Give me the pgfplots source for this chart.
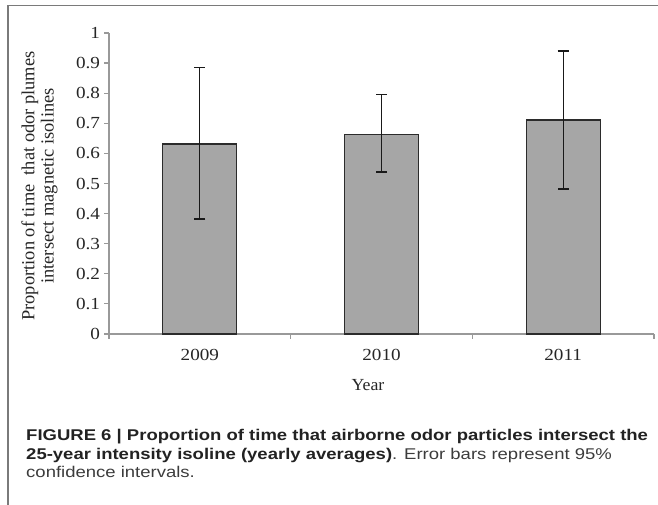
\documentclass[border=0pt]{standalone}
\usepackage{fontspec}
\setmainfont{Liberation Serif}
\newfontfamily\capfont{Liberation Sans}
\usepackage{pgfplots}
\pgfplotsset{compat=1.18}
\definecolor{barfill}{HTML}{A6A6A6}
\definecolor{baredge}{HTML}{2B2B2B}
\definecolor{axgray}{HTML}{999999}
\definecolor{framegray}{HTML}{7A7A7A}
\definecolor{capbold}{HTML}{222222}
\definecolor{captext}{HTML}{3C3C3C}

\begin{document}
\begin{tikzpicture}[x=1bp,y=1bp]
  \useasboundingbox (0,0) rectangle (658,505);
  % frame round the figure
  \draw[framegray, line width=1.3bp] (8,0) -- (8,499.5) -- (658,499.5);
  \begin{axis}[
      at={(109bp,171bp)}, anchor=south west,
      scale only axis, width=545bp, height=301bp,
      xmin=-0.5, xmax=2.5, ymin=0, ymax=1,
      axis x line*=bottom, axis y line*=left,
      axis line style={axgray, line width=1.2bp, -},
      tick style={axgray, line width=1.2bp},
      tick align=outside, major tick length=5bp,
      xtick={-0.5,0.5,1.5,2.5}, xticklabels={},
      extra x ticks={0,1,2}, extra x tick labels={2009,2010,2011},
      extra x tick style={major tick length=0bp,
        xticklabel style={yshift=-12bp}},
      ytick={0,0.1,0.2,0.3,0.4,0.5,0.6,0.7,0.8,0.9,1},
      yticklabels={0,0.1,0.2,0.3,0.4,0.5,0.6,0.7,0.8,0.9,1},
      ticklabel style={font=\fontsize{17}{20}\selectfont, text=black!85, xscale=1.13},
      /pgf/number format/assume math mode=true,
      clip=false,
    ]
    \addplot[ybar, bar width=74bp, fill=barfill, draw=baredge, line width=1.2bp,
      error bars/.cd, y dir=both, y explicit,
      error bar style={black!90, line width=1.2bp},
      error mark options={rotate=90, mark size=5.5bp, line width=1.4bp, black!90}]
      coordinates {
        (0,0.631) += (0,0.254) -= (0,0.249)
        (1,0.664) += (0,0.131) -= (0,0.126)
        (2,0.711) += (0,0.229) -= (0,0.229)
      };
  \end{axis}
  \node[rotate=90, align=center, font=\fontsize{18.5}{19.5}\selectfont, text=black!85]
    at (39.5,319) {Proportion of time\ \ that odor plumes\\intersect magnetic isolines};
  \node[font=\fontsize{17}{20}\selectfont, text=black!85, xscale=1.05] at (368,120) {Year};
  \begin{scope}[every node/.style={anchor=base west, inner sep=0pt, text=captext,
      xscale=1.19, font=\capfont\fontsize{15.6}{19}\selectfont}]
    \node at (26,64.3) {\color{capbold}\bfseries FIGURE 6 | Proportion of time that airborne odor particles intersect the};
    \node at (26,45.7) {{\color{capbold}\bfseries 25-year intensity isoline (yearly averages)}. Error bars represent 95\%};
    \node at (26,27.3) {confidence intervals.};
  \end{scope}
\end{tikzpicture}
\end{document}
